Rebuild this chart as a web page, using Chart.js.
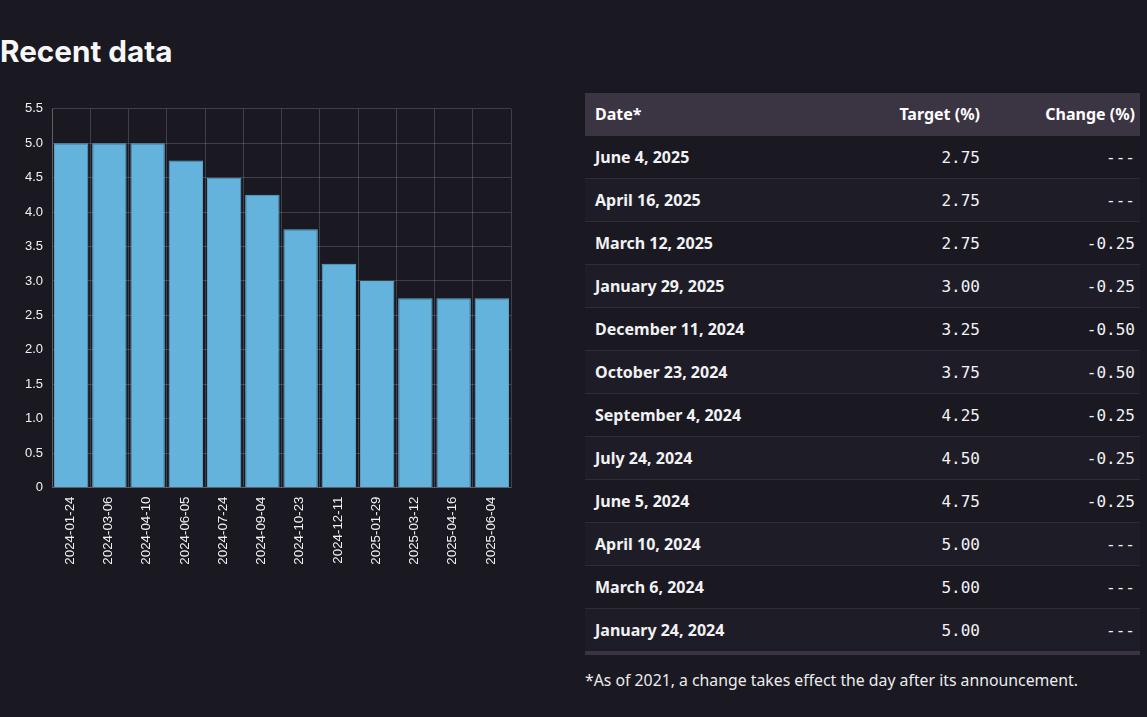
<!DOCTYPE html>
<html>
<head>
<meta charset="utf-8">
<script src="https://cdn.jsdelivr.net/npm/chart.js@4"></script>
<style>
  html, body { margin: 0; padding: 0; background: #1a1922; overflow: hidden; }
  body { width: 1147px; height: 717px; position: relative; font-family: "Noto Sans", sans-serif; color: #f2f2f4; }
  h2 { position: absolute; left: 0; top: 31px; margin: 0; font: 700 29.7px/40px Inter, sans-serif; color: #f7f7f8; white-space: nowrap; }
  #chartBox { position: absolute; left: 0; top: 92px; width: 530px; height: 490px; }
  table { position: absolute; left: 585px; top: 93px; width: 555px; border-collapse: separate; border-spacing: 0; table-layout: fixed; font-size: 16px; }
  th { height: 43px; padding: 0 5px 2px 10px; background: #3b3443; font-weight: 700; color: #fff; text-align: left; box-sizing: border-box; }
  td { height: 43px; padding: 0 5px 0 10px; box-sizing: border-box; border-bottom: 1px solid #2e2c37; }
  td:first-child { font-weight: 700; }
  .num { text-align: right; font-family: "DejaVu Sans Mono", monospace; font-size: 16px; }
  th.num { font-family: "Noto Sans", sans-serif; font-size: 16px; }
  tr:nth-child(even) td { background: #1e1d27; }
  tr:last-child td { height: 46px; border-bottom: 4px solid #3b3443; }
  #note { position: absolute; left: 585px; top: 669px; font-size: 15.8px; line-height: 22px; color: #ececee; white-space: nowrap; }
</style>
</head>
<body>
<h2>Recent data</h2>
<div id="chartBox"><canvas id="rateChart"></canvas></div>
<table>
  <colgroup><col style="width:255px"><col style="width:145px"><col style="width:155px"></colgroup>
  <thead><tr><th>Date*</th><th class="num">Target (%)</th><th class="num">Change (%)</th></tr></thead>
  <tbody id="rows"></tbody>
</table>
<div id="note">*As of 2021, a change takes effect the day after its announcement.</div>
<script>
// bar chart, oldest first
const chartDates = ["2024-01-24", "2024-03-06", "2024-04-10", "2024-06-05", "2024-07-24", "2024-09-04",
  "2024-10-23", "2024-12-11", "2025-01-29", "2025-03-12", "2025-04-16", "2025-06-04"];
const chartRates = [5, 5, 5, 4.75, 4.5, 4.25, 3.75, 3.25, 3, 2.75, 2.75, 2.75];

// table, newest first
const tableDates = ["June 4, 2025", "April 16, 2025", "March 12, 2025", "January 29, 2025", "December 11, 2024",
  "October 23, 2024", "September 4, 2024", "July 24, 2024", "June 5, 2024", "April 10, 2024", "March 6, 2024", "January 24, 2024"];
const tableTargets = ["2.75", "2.75", "2.75", "3.00", "3.25", "3.75", "4.25", "4.50", "4.75", "5.00", "5.00", "5.00"];
const tableChanges = ["---", "---", "-0.25", "-0.25", "-0.50", "-0.50", "-0.25", "-0.25", "-0.25", "---", "---", "---"];

const rowsEl = document.getElementById("rows");
tableDates.forEach((d, i) => {
  const tr = document.createElement("tr");
  tr.innerHTML = `<td>${d}</td><td class="num">${tableTargets[i]}</td><td class="num">${tableChanges[i]}</td>`;
  rowsEl.appendChild(tr);
});

const gridColor = "rgba(255,255,255,0.17)";
const tickFont = { family: "'Liberation Sans', Arial, sans-serif", size: 13.33 };

new Chart(document.getElementById("rateChart"), {
  type: "bar",
  data: {
    labels: chartDates,
    datasets: [{
      data: chartRates,
      backgroundColor: "#63b3dc",
      borderColor: "#5facd4",
      borderWidth: 1,
      barPercentage: 0.9,
      categoryPercentage: 1
    }]
  },
  options: {
    responsive: true,
    maintainAspectRatio: false,
    animation: false,
    layout: { padding: { top: 10, right: 19 } },
    plugins: { legend: { display: false }, tooltip: { enabled: false } },
    scales: {
      x: {
        afterFit: s => { s.height = 94.5; },
        grid: { color: gridColor, drawTicks: false },
        border: { color: gridColor },
        ticks: { color: "#f2f2f4", font: tickFont, padding: 9, labelOffset: -1, minRotation: 90, maxRotation: 90, autoSkip: false }
      },
      y: {
        min: 0,
        max: 5.5,
        afterFit: s => { s.width = 52; },
        grid: { color: gridColor, drawTicks: false },
        border: { color: gridColor },
        ticks: {
          color: "#f2f2f4",
          font: { family: tickFont.family, size: 13 },
          padding: 9,
          stepSize: 0.5,
          callback: v => (v === 0 ? "0" : v.toFixed(1))
        }
      }
    }
  }
});
</script>
</body>
</html>
